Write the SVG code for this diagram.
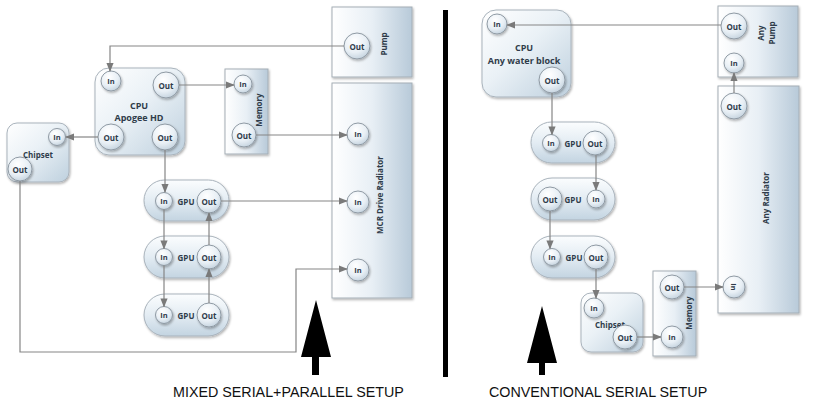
<svg xmlns="http://www.w3.org/2000/svg" width="826" height="406" viewBox="0 0 826 406">
<defs>
<linearGradient id="gBox" x1="0" y1="0" x2="1" y2="1">
<stop offset="0" stop-color="#ffffff"/><stop offset="0.45" stop-color="#eaf1f6"/><stop offset="1" stop-color="#bed0de"/>
</linearGradient>
<linearGradient id="gRect" x1="0" y1="0" x2="1" y2="0">
<stop offset="0" stop-color="#ffffff"/><stop offset="0.5" stop-color="#e8eff5"/><stop offset="1" stop-color="#b8cad9"/>
</linearGradient>
<linearGradient id="gPill" x1="0" y1="0" x2="0" y2="1">
<stop offset="0" stop-color="#fbfdfe"/><stop offset="0.5" stop-color="#e3ecf3"/><stop offset="1" stop-color="#c3d4e1"/>
</linearGradient>
<radialGradient id="gCirc" cx="0.4" cy="0.3" r="0.75">
<stop offset="0" stop-color="#ffffff"/><stop offset="0.6" stop-color="#e8eff5"/><stop offset="1" stop-color="#c2d1dd"/>
</radialGradient>
<filter id="sh" x="-20%" y="-20%" width="140%" height="140%">
<feDropShadow dx="1" dy="1.5" stdDeviation="1.2" flood-color="#000" flood-opacity="0.3"/>
</filter>
<marker id="ah" viewBox="0 0 10 10" refX="9" refY="5" markerWidth="9" markerHeight="9" markerUnits="userSpaceOnUse" orient="auto">
<path d="M0,1 L10,5 L0,9 Z" fill="#7a7a7a"/>
</marker>
</defs>
<style>
.box{fill:url(#gBox);stroke:#a9b3bc;stroke-width:1;filter:url(#sh)}
.rect{fill:url(#gRect);stroke:#a5aeb6;stroke-width:1;filter:url(#sh)}
.pill{fill:url(#gPill);stroke:#a9b3bc;stroke-width:1;filter:url(#sh)}
.port{fill:url(#gCirc);stroke:#8f9aa4;stroke-width:1;filter:url(#sh)}
.t{font-family:"Open Sans","DejaVu Sans",sans-serif;font-weight:700;fill:#2f3c4a;text-anchor:middle;dominant-baseline:central}
.s9{font-size:9px}
.s8{font-size:8px}
.s7{font-size:7.5px}
.conn{fill:none;stroke:#858585;stroke-width:1.2;marker-end:url(#ah)}
.title{font-family:"Liberation Sans",Arial,sans-serif;font-size:14.3px;fill:#111}
</style>

<!-- LEFT: MIXED SERIAL+PARALLEL -->
<g id="pumpL">
<rect class="rect" x="332" y="7" width="80" height="70"/>
<circle class="port" cx="357" cy="46" r="13"/><text class="t s8" x="357" y="46">Out</text>
<text class="t s8" transform="translate(383,44) rotate(-90)">Pump</text>
</g>
<g id="cpuL">
<rect class="box" x="95" y="68" width="90" height="87" rx="14"/>
<circle class="port" cx="111" cy="81" r="10"/><text class="t s7" x="111" y="81">In</text>
<circle class="port" cx="166" cy="85" r="13"/><text class="t s8" x="166" y="85">Out</text>
<text class="t s9" x="139" y="105">CPU</text>
<text class="t s9" x="139" y="117.5">Apogee HD</text>
<circle class="port" cx="111" cy="137" r="13"/><text class="t s8" x="111" y="137">Out</text>
<circle class="port" cx="165" cy="137" r="13"/><text class="t s8" x="165" y="137">Out</text>
</g>
<g id="chipsetL">
<rect class="box" x="7" y="123" width="62" height="59" rx="10"/>
<circle class="port" cx="57" cy="137" r="8.5"/><text class="t s7" x="57" y="137">In</text>
<text class="t s8" x="38" y="154">Chipset</text>
<circle class="port" cx="20" cy="169" r="12"/><text class="t s8" x="20" y="169">Out</text>
</g>
<g id="memoryL">
<rect class="rect" x="225" y="69" width="43" height="85"/>
<circle class="port" cx="243" cy="84" r="9"/><text class="t s7" x="243" y="84">In</text>
<circle class="port" cx="244" cy="135" r="12"/><text class="t s8" x="244" y="135">Out</text>
<text class="t s8" transform="translate(258,110) rotate(-90)">Memory</text>
</g>
<g id="radiatorL">
<rect class="rect" x="332" y="83" width="80" height="215"/>
<circle class="port" cx="358" cy="134" r="11"/><text class="t s7" x="358" y="134">In</text>
<circle class="port" cx="358" cy="202" r="11"/><text class="t s7" x="358" y="202">In</text>
<circle class="port" cx="358" cy="270" r="11"/><text class="t s7" x="358" y="270">In</text>
<text class="t s8" transform="translate(379,195) rotate(-90)">MCR Drive Radiator</text>
</g>
<g id="gpu1L">
<rect class="pill" x="144" y="180" width="85" height="41" rx="20.5"/>
<circle class="port" cx="164" cy="201" r="8.5"/><text class="t s7" x="164" y="201">In</text>
<text class="t s8" x="186" y="201">GPU</text>
<circle class="port" cx="209" cy="201" r="12"/><text class="t s8" x="209" y="201">Out</text>
</g>
<g id="gpu2L">
<rect class="pill" x="144" y="236" width="85" height="42" rx="21"/>
<circle class="port" cx="164" cy="257" r="8.5"/><text class="t s7" x="164" y="257">In</text>
<text class="t s8" x="186" y="257">GPU</text>
<circle class="port" cx="209" cy="257" r="12"/><text class="t s8" x="209" y="257">Out</text>
</g>
<g id="gpu3L">
<rect class="pill" x="144" y="294" width="85" height="42" rx="21"/>
<circle class="port" cx="164" cy="315" r="8.5"/><text class="t s7" x="164" y="315">In</text>
<text class="t s8" x="186" y="315">GPU</text>
<circle class="port" cx="209" cy="315" r="12"/><text class="t s8" x="209" y="315">Out</text>
</g>

<!-- RIGHT: CONVENTIONAL SERIAL -->
<g id="cpuR">
<rect class="box" x="482" y="10" width="89" height="87" rx="14"/>
<circle class="port" cx="497" cy="24" r="10"/><text class="t s7" x="497" y="24">In</text>
<text class="t s9" x="524" y="47.5">CPU</text>
<text class="t s9" x="524" y="60">Any water block</text>
<circle class="port" cx="552" cy="80" r="13"/><text class="t s8" x="552" y="80">Out</text>
</g>
<g id="pumpR">
<rect class="rect" x="718" y="6" width="80" height="71"/>
<circle class="port" cx="734" cy="26" r="13"/><text class="t s8" x="734" y="26">Out</text>
<circle class="port" cx="734" cy="63" r="10"/><text class="t s7" x="734" y="63">In</text>
<text class="t s8" transform="translate(760,33) rotate(-90)">Any</text>
<text class="t s8" transform="translate(771,33) rotate(-90)">Pump</text>
</g>
<g id="radiatorR">
<rect class="rect" x="718" y="86" width="81" height="227"/>
<circle class="port" cx="734" cy="106" r="13"/><text class="t s8" x="734" y="106">Out</text>
<circle class="port" cx="734" cy="287" r="11"/><text class="t s7" x="0" y="0" transform="translate(734,287) rotate(90)">In</text>
<text class="t s8" transform="translate(765,198) rotate(-90)">Any Radiator</text>
</g>
<g id="gpu1R">
<rect class="pill" x="531" y="122" width="84" height="41" rx="20.5"/>
<circle class="port" cx="551" cy="143" r="8.5"/><text class="t s7" x="551" y="143">In</text>
<text class="t s8" x="573" y="143">GPU</text>
<circle class="port" cx="595" cy="143" r="12"/><text class="t s8" x="595" y="143">Out</text>
</g>
<g id="gpu2R">
<rect class="pill" x="531" y="178" width="84" height="42" rx="21"/>
<circle class="port" cx="550" cy="199" r="12"/><text class="t s8" x="550" y="199">Out</text>
<text class="t s8" x="573" y="199">GPU</text>
<circle class="port" cx="596" cy="199" r="9"/><text class="t s7" x="596" y="199">In</text>
</g>
<g id="gpu3R">
<rect class="pill" x="531" y="236" width="84" height="42" rx="21"/>
<circle class="port" cx="552" cy="257" r="8.5"/><text class="t s7" x="552" y="257">In</text>
<text class="t s8" x="574" y="257">GPU</text>
<circle class="port" cx="596" cy="257" r="12"/><text class="t s8" x="596" y="257">Out</text>
</g>
<g id="chipsetR">
<rect class="box" x="581" y="293" width="62" height="59" rx="10"/>
<circle class="port" cx="594" cy="308" r="10"/><text class="t s7" x="594" y="308">In</text>
<text class="t s8" x="610" y="324">Chipset</text>
<circle class="port" cx="625" cy="337" r="12"/><text class="t s8" x="625" y="337">Out</text>
</g>
<g id="memoryR">
<rect class="rect" x="653" y="271" width="43" height="85"/>
<circle class="port" cx="672" cy="287" r="12"/><text class="t s8" x="672" y="287">Out</text>
<circle class="port" cx="672" cy="337" r="11"/><text class="t s7" x="672" y="337">In</text>
<text class="t s8" transform="translate(688,313) rotate(-90)">Memory</text>
</g>

<g id="connectors">
<path class="conn" d="M344,46 H110 V71"/>
<path class="conn" d="M179,85 H234"/>
<path class="conn" d="M98,137 H66"/>
<path class="conn" d="M165,150 V192"/>
<path class="conn" d="M256,135 H347"/>
<path class="conn" d="M164,209.5 V248.5"/>
<path class="conn" d="M164,265.5 V306.5"/>
<path class="conn" d="M209,303 V269"/>
<path class="conn" d="M209,245 V213"/>
<path class="conn" d="M221,201 H347"/>
<path class="conn" d="M20,181 V352 H296 V269 H347"/>

<path class="conn" d="M721,25 H507"/>
<path class="conn" d="M552,93 V134.5"/>
<path class="conn" d="M596,155 V190"/>
<path class="conn" d="M550,211 V248.5"/>
<path class="conn" d="M596,269 V298"/>
<path class="conn" d="M637,337 H661"/>
<path class="conn" d="M684,287 H723"/>
<path class="conn" d="M734,93 V73"/>
</g>

<g id="divider"><rect x="443" y="10" width="5" height="367" fill="#000"/></g>
<g id="bigArrowL"><path d="M316,300 L331,357 L319,357 L319,375 L312,375 L312,357 L301,357 Z" fill="#000"/></g>
<g id="bigArrowR"><path d="M542,306 L557,363 L545,363 L545,375 L539,375 L539,363 L527,363 Z" fill="#000"/></g>
<text class="title" x="173" y="397">MIXED SERIAL+PARALLEL SETUP</text>
<text class="title" x="489" y="397">CONVENTIONAL SERIAL SETUP</text>
</svg>
